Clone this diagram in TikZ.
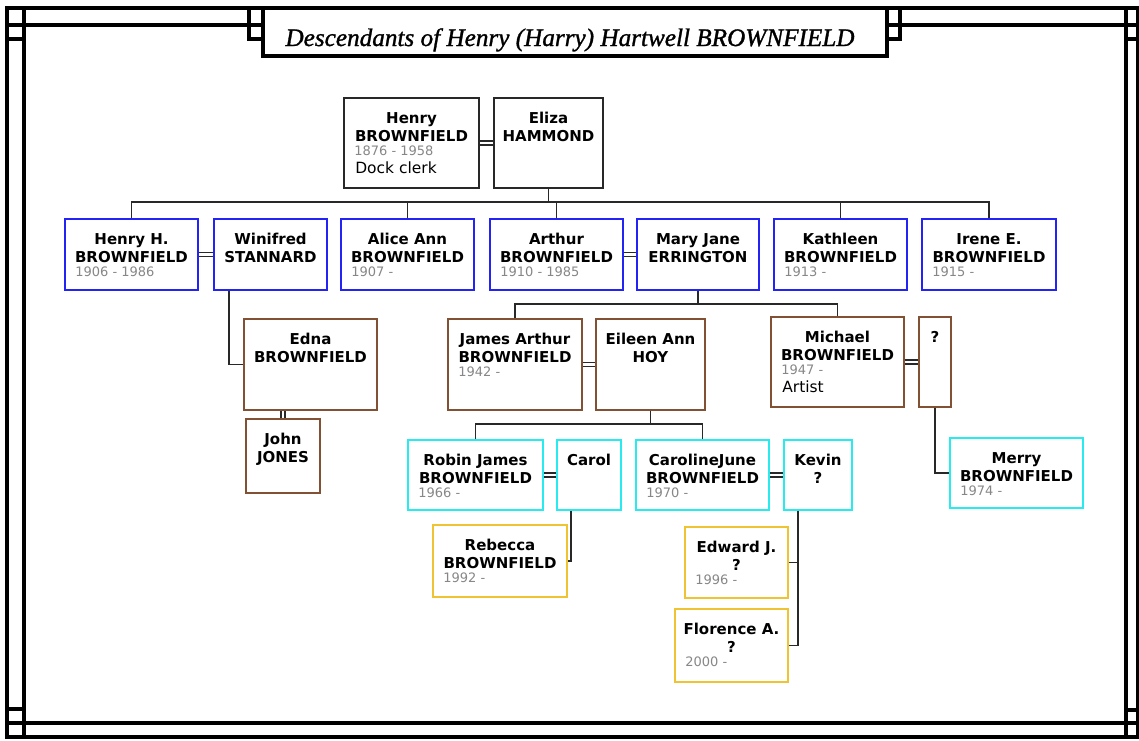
\documentclass[tikz,border=0pt]{standalone}
\usepackage{fontspec}
\setmainfont{DejaVu Sans}
\newfontfamily\titlefont[FakeBold=1.2]{Liberation Serif}
\usetikzlibrary{calc,fit}
\definecolor{pblack}{RGB}{40,40,40}
\definecolor{pblue}{RGB}{35,35,245}
\definecolor{pbrown}{RGB}{130,80,50}
\definecolor{pcyan}{RGB}{40,235,240}
\definecolor{pgold}{RGB}{240,195,50}
\definecolor{pgray}{RGB}{135,135,135}
\definecolor{pline}{RGB}{40,40,40}
\tikzset{
  pbase/.style={draw, line width=1.4pt, inner sep=0pt},
  gen0/.style={pbase, draw=pblack},
  gen1/.style={pbase, draw=pblue},
  gen2/.style={pbase, draw=pbrown},
  gen3/.style={pbase, draw=pcyan},
  gen4/.style={pbase, draw=pgold},
  nm/.style={inner sep=0pt, font=\fontsize{11.25}{13}\selectfont\bfseries},
  dt/.style={inner sep=0pt, text=pgray, font=\fontsize{9.75}{11}\selectfont},
  oc/.style={inner sep=0pt, font=\fontsize{11.6}{13}\selectfont},
  conn/.style={draw=pline, line width=1.3pt},
  marr/.style={draw=pline, double=white, double distance=2.2pt, line width=1.1pt},
  framel/.style={line width=3pt, draw=black},
}
\newcommand{\person}[6]{\node[#6, fit={(#2,#3) (#4,#5)}] (#1) {};}
\newcommand{\lineA}[2]{\node[nm, anchor=base] (#1-a) at ($(#1.north)+(0,26.5)$) {#2};}
\newcommand{\lineB}[2]{\node[nm, anchor=base] (#1-b) at ($(#1.north)+(0,44)$) {#2};}
\newcommand{\dates}[2]{\node[dt, anchor=base west] (#1-d) at ($(#1.north west)+(11,58)$) {#2};}
\newcommand{\occup}[2]{\node[oc, anchor=base west] (#1-o) at ($(#1.north west)+(12,76)$) {#2};}
\begin{document}
\begin{tikzpicture}[x=0.75pt,y=-0.75pt]
\useasboundingbox (0,0) rectangle (1139,740);
\fill[white] (0,0) rectangle (1139,740);
% frame
\draw[framel] (7,7.5) rectangle (1137.5,736.5);
\draw[framel] (24,7.5) -- (24,736.5);
\draw[framel] (1125.5,7.5) -- (1125.5,736.5);
\draw[framel] (7,24.5) -- (263,24.5);
\draw[framel] (887,24.5) -- (1137.5,24.5);
\draw[framel] (7,723) -- (1137.5,723);
\draw[framel] (7,39) -- (24,39);
\draw[framel] (1125.5,39) -- (1137.5,39);
\draw[framel] (7,708.5) -- (24,708.5);
\draw[framel] (1125.5,709.5) -- (1137.5,709.5);
\draw[framel] (249,7.5) -- (249,39) -- (263,39);
\draw[framel] (887,39) -- (900,39) -- (900,7.5);
\draw[framel, fill=white] (263,7.5) rectangle (887,56);
\node[anchor=base, inner sep=0pt, font=\titlefont\itshape\fontsize{18.9}{22}\selectfont] (title) at (570,46) {Descendants of Henry (Harry) Hartwell BROWNFIELD};

% persons
\person{henry}{344}{98}{479}{188}{gen0}
\lineA{henry}{Henry}\lineB{henry}{BROWNFIELD}\dates{henry}{1876 - 1958}\occup{henry}{Dock clerk}
\person{eliza}{494}{98}{603}{188}{gen0}
\lineA{eliza}{Eliza}\lineB{eliza}{HAMMOND}

\person{henryh}{65}{219}{198}{290}{gen1}
\lineA{henryh}{Henry H.}\lineB{henryh}{BROWNFIELD}\dates{henryh}{1906 - 1986}
\person{winifred}{214}{219}{327}{290}{gen1}
\lineA{winifred}{Winifred}\lineB{winifred}{STANNARD}
\person{alice}{341}{219}{474}{290}{gen1}
\lineA{alice}{Alice Ann}\lineB{alice}{BROWNFIELD}\dates{alice}{1907 -}
\person{arthur}{490}{219}{623}{290}{gen1}
\lineA{arthur}{Arthur}\lineB{arthur}{BROWNFIELD}\dates{arthur}{1910 - 1985}
\person{maryjane}{637}{219}{759}{290}{gen1}
\lineA{maryjane}{Mary Jane}\lineB{maryjane}{ERRINGTON}
\person{kathleen}{774}{219}{907}{290}{gen1}
\lineA{kathleen}{Kathleen}\lineB{kathleen}{BROWNFIELD}\dates{kathleen}{1913 -}
\person{irene}{922}{219}{1056}{290}{gen1}
\lineA{irene}{Irene E.}\lineB{irene}{BROWNFIELD}\dates{irene}{1915 -}

\person{edna}{244}{319}{377}{410}{gen2}
\lineA{edna}{Edna}\lineB{edna}{BROWNFIELD}
\person{john}{246}{419}{320}{493}{gen2}
\lineA{john}{John}\lineB{john}{JONES}
\person{james}{448}{319}{582}{410}{gen2}
\lineA{james}{James Arthur}\lineB{james}{BROWNFIELD}\dates{james}{1942 -}
\person{eileen}{596}{319}{705}{410}{gen2}
\lineA{eileen}{Eileen Ann}\lineB{eileen}{HOY}
\person{michael}{771}{317}{904}{407}{gen2}
\lineA{michael}{Michael}\lineB{michael}{BROWNFIELD}\dates{michael}{1947 -}\occup{michael}{Artist}
\person{unk}{919}{317}{951}{407}{gen2}
\lineA{unk}{?}

\person{robin}{408}{440}{543}{510}{gen3}
\lineA{robin}{Robin James}\lineB{robin}{BROWNFIELD}\dates{robin}{1966 -}
\person{carol}{557}{440}{621}{510}{gen3}
\lineA{carol}{Carol}
\person{caroline}{636}{440}{769}{510}{gen3}
\lineA{caroline}{CarolineJune}\lineB{caroline}{BROWNFIELD}\dates{caroline}{1970 -}
\person{kevin}{784}{440}{852}{510}{gen3}
\lineA{kevin}{Kevin}\lineB{kevin}{?}
\person{merry}{950}{438}{1083}{508}{gen3}
\lineA{merry}{Merry}\lineB{merry}{BROWNFIELD}\dates{merry}{1974 -}

\person{rebecca}{433}{525}{567}{597}{gen4}
\lineA{rebecca}{Rebecca}\lineB{rebecca}{BROWNFIELD}\dates{rebecca}{1992 -}
\person{edward}{685}{527}{788}{598}{gen4}
\lineA{edward}{Edward J.}\lineB{edward}{?}\dates{edward}{1996 -}
\person{florence}{675}{609}{788}{682}{gen4}
\lineA{florence}{Florence A.}\lineB{florence}{?}\dates{florence}{2000 -}

% marriages
\draw[marr] (henry.east) -- (eliza.west);
\draw[marr] (henryh.east) -- (winifred.west);
\draw[marr] (arthur.east) -- (maryjane.west);
\draw[marr] (james.east) -- (eileen.west);
\draw[marr] (michael.east) -- (unk.west);
\draw[marr] (robin.east) -- (carol.west);
\draw[marr] (caroline.east) -- (kevin.west);
\draw[marr] (john.north) -- (john.north |- edna.south);

% descent connectors
\coordinate (bar1) at (0,202);
\coordinate (bar2) at (0,304);
\coordinate (bar3) at (0,424);
\draw[conn] (eliza.south) -- (eliza.south |- bar1);
\draw[conn] (henryh.north) -- (henryh.north |- bar1) -- (irene.north |- bar1) -- (irene.north);
\draw[conn] (alice.north) -- (alice.north |- bar1);
\draw[conn] (arthur.north) -- (arthur.north |- bar1);
\draw[conn] (kathleen.north) -- (kathleen.north |- bar1);

\coordinate (wstem) at ($(winifred.south west)+(16,0)$);
\draw[conn] (wstem) |- (edna.west);

\draw[conn] (maryjane.south) -- (maryjane.south |- bar2);
\draw[conn] (james.north) -- (james.north |- bar2) -- (michael.north |- bar2) -- (michael.north);

\draw[conn] (eileen.south) -- (eileen.south |- bar3);
\draw[conn] (robin.north) -- (robin.north |- bar3) -- (caroline.north |- bar3) -- (caroline.north);

\draw[conn] (unk.south) |- (merry.west);

\coordinate (cstem) at ($(carol.south west)+(15,0)$);
\draw[conn] (cstem) |- (rebecca.east);

\coordinate (kstem) at ($(kevin.south west)+(15,0)$);
\draw[conn] (kstem) |- (florence.east);
\draw[conn] (edward.east) -- (edward.east -| kstem);
\end{tikzpicture}
\end{document}
